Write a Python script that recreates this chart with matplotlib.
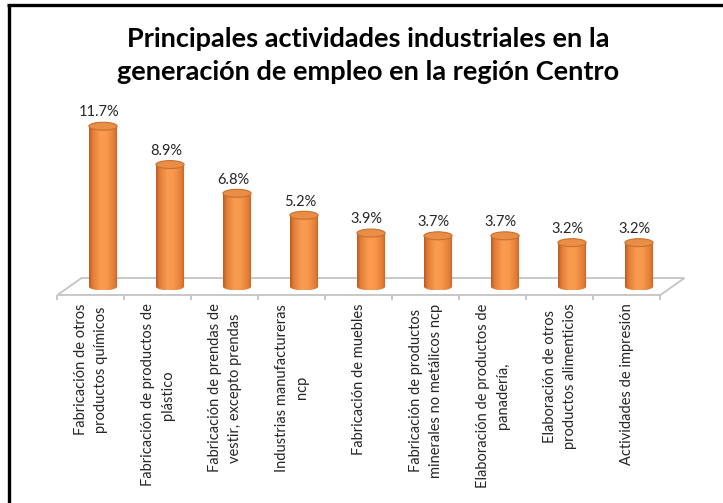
import numpy as np
import matplotlib
matplotlib.use("Agg")
import matplotlib.pyplot as plt
from matplotlib.colors import LinearSegmentedColormap
from matplotlib.patches import Polygon, Ellipse
from matplotlib.lines import Line2D

categories = [
    "Fabricación de otros\nproductos químicos",
    "Fabricación de productos de\nplástico",
    "Fabricación de prendas de\nvestir, excepto prendas",
    "Industrias manufactureras\nncp",
    "Fabricación de muebles",
    "Fabricación de productos\nminerales no metálicos ncp",
    "Elaboración de productos de\npanadería,",
    "Elaboración de otros\nproductos alimenticios",
    "Actividades de impresión",
]
values = [11.7, 8.9, 6.8, 5.2, 3.9, 3.7, 3.7, 3.2, 3.2]
value_labels = ["11.7%", "8.9%", "6.8%", "5.2%", "3.9%", "3.7%", "3.7%", "3.2%", "3.2%"]
title = "Principales actividades industriales en la\ngeneración de empleo en la región Centro"

W, H = 723, 503
fig = plt.figure(figsize=(W / 100, H / 100), dpi=100)
fig.patch.set_facecolor("white")

# axes mapped so that bar i center at pixel 103+67*i, value 0 at pixel y 286.5, 13.7 px per unit
x0, x1 = -1, 9
y0, y1 = -1, 14
px_left = 103 + 67 * x0
px_right = 103 + 67 * x1
py_bottom = 286.5 - 13.7 * y0
py_top = 286.5 - 13.7 * y1
ax = fig.add_axes([px_left / W, (H - py_bottom) / H, (px_right - px_left) / W, (py_bottom - py_top) / H])
ax.set_xlim(x0, x1)
ax.set_ylim(y0, y1)
ax.axis("off")

n = len(values)
dx = 0.18   # depth shift (x)
dy = 0.62   # depth shift (y)
floor_col = "#C4C4C4"

# floor
floor = Polygon([(-0.5 - dx, -dy), (-0.5 + dx, dy), (n - 0.5 + dx, dy), (n - 0.5 - dx, -dy)],
                closed=True, facecolor="white", edgecolor=floor_col, lw=1.3, zorder=1)
ax.add_patch(floor)
for k in range(n + 1):
    xb = k - 0.5 - dx
    ax.plot([xb, xb], [-dy, -1.08], color=floor_col, lw=1.3, zorder=1, solid_capstyle="butt")

# cylinders
w = 0.42
eh = 0.29
cmap = LinearSegmentedColormap.from_list(
    "cyl", [(0.0, "#B85A22"), (0.12, "#E27C36"), (0.4, "#F99C52"), (0.62, "#F8984C"),
            (0.88, "#E27C36"), (1.0, "#BE6026")])
grad = np.linspace(0, 1, 256).reshape(1, -1)
for i, v in enumerate(values):
    t = np.linspace(np.pi, 2 * np.pi, 40)
    pts = [(i - w / 2, v)] + list(zip(i + w / 2 * np.cos(t), eh * np.sin(t))) + [(i + w / 2, v)]
    clip = Polygon(pts, closed=True, transform=ax.transData, facecolor="none", edgecolor="none")
    ax.add_patch(clip)
    im = ax.imshow(grad, cmap=cmap, extent=[i - w / 2, i + w / 2, -eh, v], aspect="auto",
                   zorder=3, interpolation="bilinear")
    im.set_clip_path(clip)
    top = Ellipse((i, v), w, 2 * eh, facecolor="#EA8E47", edgecolor="#C8702E", lw=0.8, zorder=4)
    ax.add_patch(top)
    ax.annotate(value_labels[i], (i, v + eh), xytext=(-3, 2), textcoords="offset points",
                ha="center", va="bottom", fontsize=10.5, color="#262626",
                family="Lato", zorder=5)

# category labels
for i, lab in enumerate(categories):
    ax.text(i - dx, -1.25, lab, rotation=90, ha="center", va="top", multialignment="center",
            fontsize=10.5, color="#262626", family="Lato", linespacing=1.55)

# title
fig.text(368 / W, 1 - 55.5 / H, title, ha="center", va="center", fontsize=19.5, fontweight="bold",
         family="Lato", color="black", linespacing=1.42)

# frame lines (left and top)
fig.add_artist(Line2D([8.5 / W, 8.5 / W], [0, 1 - 5 / H], color="black", lw=2.4,
                      transform=fig.transFigure, solid_capstyle="butt"))
fig.add_artist(Line2D([7.3 / W, 1], [1 - 5 / H, 1 - 5 / H], color="black", lw=2.4,
                      transform=fig.transFigure, solid_capstyle="butt"))

fig.savefig("out.png", dpi=100, facecolor="white")
